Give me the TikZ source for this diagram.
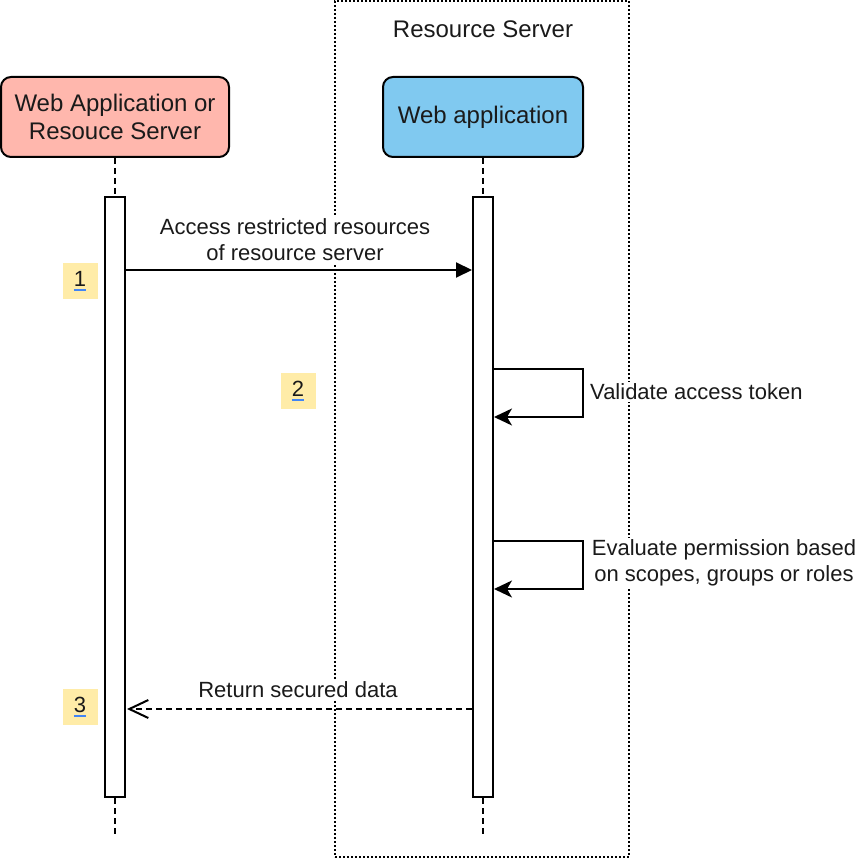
\documentclass[tikz,border=0pt]{standalone}
\usepackage{fontspec}
\setmainfont{Liberation Sans}
\usetikzlibrary{arrows.meta}
\definecolor{txt}{RGB}{26,26,26}
\definecolor{salmon}{RGB}{255,183,173}
\definecolor{skyb}{RGB}{128,201,240}
\definecolor{numy}{RGB}{255,236,168}
\definecolor{ublue}{RGB}{66,133,244}
\tikzset{
  hdr/.style={draw, line width=2pt, rounded corners=10pt, text=txt, align=center,
    font=\fontsize{24}{28}\selectfont, minimum height=80pt, inner sep=0pt},
  actbox/.style={draw, line width=2pt, fill=white, minimum width=20pt, minimum height=600pt, inner sep=0pt},
  lifeline/.style={line width=2pt, dash pattern=on 6pt off 4pt},
  lbl/.style={fill=white, text=txt, align=center, font=\fontsize{22}{26}\selectfont, inner sep=2pt},
  numbox/.style={fill=numy, minimum width=35pt, minimum height=36pt, inner sep=0pt, text=txt,
    font=\fontsize{22}{26}\selectfont},
  msg/.style={line width=2pt},
}
\newcommand{\stepnum}[1]{\setbox0\hbox{#1}\rlap{\color{ublue}\rule[-5pt]{\wd0}{2pt}}\box0}
\begin{document}
\begin{tikzpicture}[x=1pt,y=-1pt]
\useasboundingbox (0,0) rectangle (862,858);
% frame
\node[draw, line width=2pt, dash pattern=on 2pt off 2pt, minimum width=294pt, minimum height=856pt, inner sep=0pt] (frame) at (482,429) {};
\node[text=txt, font=\fontsize{24}{28}\selectfont] (ftitle) at (483,29) {Resource Server};
% headers
\node[hdr, fill=salmon, minimum width=228pt] (h1) at (115,117) {Web Application or\\Resouce Server};
\node[hdr, fill=skyb, minimum width=200pt] (h2) at (483,117) {Web application};
% activation boxes
\node[actbox] (a1) at (115,497) {};
\node[actbox] (a2) at (483,497) {};
\coordinate (e1) at (115,835);
\coordinate (e2) at (483,835);
\draw[lifeline] (h1.south) -- (a1.north);
\draw[lifeline] (h2.south) -- (a2.north);
\draw[lifeline] (a1.south) -- (e1);
\draw[lifeline] (a2.south) -- (e2);
% labels (white backgrounds cover the frame)
\node[lbl] (l1) at (295,240) {Access restricted resources\\of resource server};
\node[lbl, anchor=west] (l2) at (588,392) {Validate access token};
\node[lbl] (l3) at (724,563) {Evaluate permission based\\on scopes, groups or roles};
\node[lbl] (l4) at (298,690) {Return secured data};
% messages
\draw[msg, -{Triangle[length=16pt,width=15pt]}] (a1.east |- 0,270) -- (a2.west |- 0,270);
\draw[msg, -{Stealth[length=18pt,width=17pt,inset=5pt]}] (a2.east |- 0,369) -- (583,369) -- (583,417) -- (a2.east |- 0,417);
\draw[msg, -{Stealth[length=18pt,width=17pt,inset=5pt]}] (a2.east |- 0,541) -- (583,541) -- (583,589) -- (a2.east |- 0,589);
\draw[msg, dash pattern=on 6pt off 4pt, -{Straight Barb[length=19pt,width=18pt]}] (a2.west |- 0,709) -- (127,709);
% step numbers
\node[numbox] (n1) at (80,281) {\stepnum{1}};
\node[numbox] (n2) at (298,391) {\stepnum{2}};
\node[numbox] (n3) at (80,707) {\stepnum{3}};
\end{tikzpicture}
\end{document}
